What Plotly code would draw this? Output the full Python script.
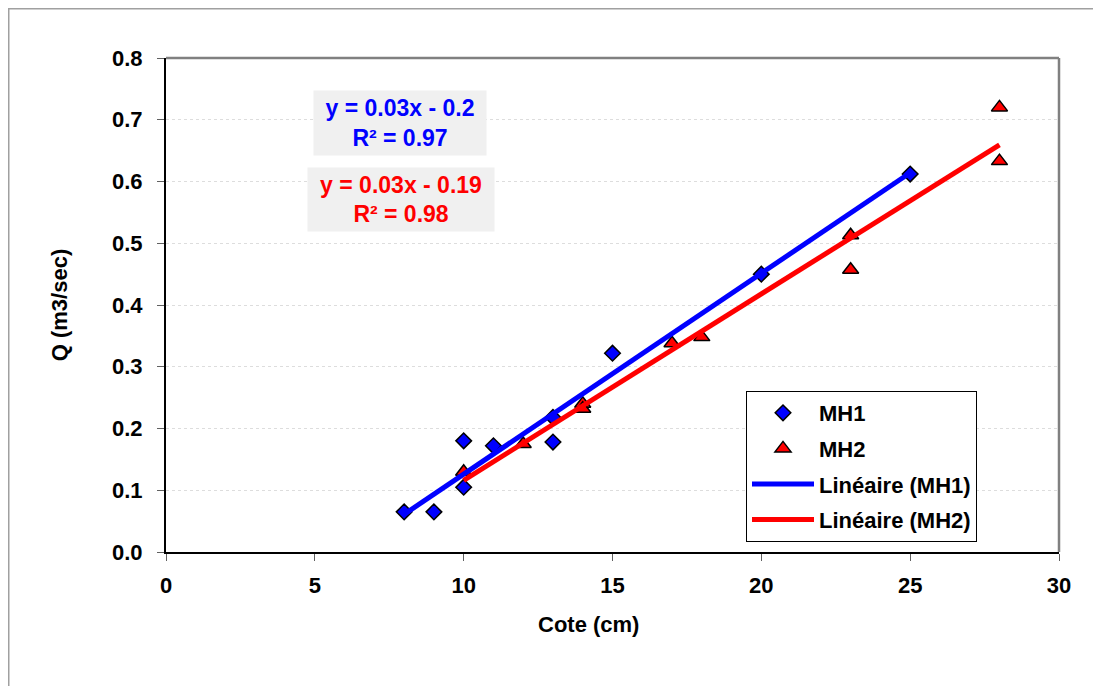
import numpy as np
import plotly.graph_objects as go

# Data
mh1_x = [8, 9, 10, 10, 11, 13, 13, 15, 20, 25]
mh1_y = [0.065, 0.065, 0.18, 0.105, 0.172, 0.178, 0.218, 0.322, 0.45, 0.612]
mh2_x = [10, 12, 14, 14, 17, 18, 23, 23, 28, 28]
mh2_y = [0.13, 0.175, 0.24, 0.232, 0.338, 0.348, 0.513, 0.457, 0.72, 0.633]
x_ticks = [0, 5, 10, 15, 20, 25, 30]
y_ticks = [0.0, 0.1, 0.2, 0.3, 0.4, 0.5, 0.6, 0.7, 0.8]
eq1 = "y = 0.03x - 0.2<br>R² = 0.97"
eq2 = "y = 0.03x - 0.19<br>R² = 0.98"
x_title = "Cote (cm)"
y_title = "Q (m3/sec)"

FONT = "Liberation Sans, Arial, sans-serif"

# plot-area geometry in figure pixels
L, T, W, H = 158, 50, 893, 494


def px(xp):
    return (xp - L) / W


def py(yp):
    return (T + H - yp) / H


def fit(xs, ys):
    a, b = np.polyfit(xs, ys, 1)
    xr = [min(xs), max(xs)]
    return xr, [a * v + b for v in xr]


fig = go.Figure()
fig.add_trace(go.Scatter(x=mh1_x, y=mh1_y, mode="markers", name="MH1", legendgroup="a",
                         marker=dict(symbol="diamond", size=12, color="#0000FF",
                                     line=dict(color="black", width=1.5))))
fig.add_trace(go.Scatter(x=mh2_x, y=mh2_y, mode="markers", name="MH2", legendgroup="b",
                         marker=dict(symbol="triangle-up", size=14, color="#FF0000",
                                     line=dict(color="black", width=1.5))))
lx1, ly1 = fit(mh1_x, mh1_y)
lx2, ly2 = fit(mh2_x, mh2_y)
fig.add_trace(go.Scatter(x=lx1, y=ly1, mode="lines", name="Linéaire (MH1)", legendgroup="c",
                         line=dict(color="#0000FF", width=5)))
fig.add_trace(go.Scatter(x=lx2, y=ly2, mode="lines", name="Linéaire (MH2)", legendgroup="d",
                         line=dict(color="#FF0000", width=5)))

fig.add_annotation(x=px(392), y=py(115), xref="paper", yref="paper",
                   xanchor="center", yanchor="middle",
                   text=eq1, showarrow=False, bgcolor="#F0F0F0",
                   font=dict(family=FONT, size=23, color="#0000FF", weight="bold"),
                   width=170, height=62, align="center")
fig.add_annotation(x=px(393), y=py(191.5), xref="paper", yref="paper",
                   xanchor="center", yanchor="middle",
                   text=eq2, showarrow=False, bgcolor="#F0F0F0",
                   font=dict(family=FONT, size=23, color="#FF0000", weight="bold"),
                   width=184, height=61, align="center")
# x-axis title (offset left of plot centre as in the original)
fig.add_annotation(x=px(580), y=py(616), xref="paper", yref="paper",
                   xanchor="center", yanchor="middle", showarrow=False,
                   text=x_title, font=dict(family=FONT, size=22, weight="bold"))

# outer chart border
fig.add_shape(type="rect", xref="paper", yref="paper",
              x0=px(0.75), x1=px(1200), y0=py(800), y1=py(0.75),
              line=dict(color="#A0A0A0", width=1.5))
# plot area top/right border
fig.add_shape(type="line", xref="paper", yref="paper", x0=0, x1=1, y0=1, y1=1,
              line=dict(color="#808080", width=2.5))
fig.add_shape(type="line", xref="paper", yref="paper", x0=1, x1=1, y0=0, y1=1,
              line=dict(color="#808080", width=2.5))

fig.update_layout(
    width=1101, height=686,
    margin=dict(l=L, r=1101 - L - W, t=T, b=686 - T - H),
    paper_bgcolor="white", plot_bgcolor="white",
    font=dict(family=FONT, color="black"),
    showlegend=True,
    legend=dict(x=px(738), y=py(383), xanchor="left", yanchor="top",
                bordercolor="black", borderwidth=1, bgcolor="white",
                font=dict(family=FONT, size=22, weight="bold"),
                traceorder="grouped", tracegroupgap=4, itemwidth=62),
    xaxis=dict(range=[0, 30], tickvals=x_ticks, ticktext=[str(v) for v in x_ticks],
               showgrid=False, zeroline=False, showline=True, linecolor="black", linewidth=2,
               ticks="outside", ticklen=7, tickcolor="#606060", ticklabelstandoff=6,
               tickfont=dict(family=FONT, size=22, weight="bold")),
    yaxis=dict(range=[0, 0.8], tickvals=y_ticks, ticktext=[f"{v:.1f}" for v in y_ticks],
               showgrid=True, gridcolor="#DDDDDD", griddash="dot", gridwidth=1,
               zeroline=False, showline=True, linecolor="black", linewidth=2,
               ticks="outside", ticklen=7, tickcolor="#606060", ticklabelstandoff=10,
               tickfont=dict(family=FONT, size=22, weight="bold"),
               title=dict(text=y_title, font=dict(family=FONT, size=22, weight="bold"),
                          standoff=38)),
)

fig.write_html("out.html")
